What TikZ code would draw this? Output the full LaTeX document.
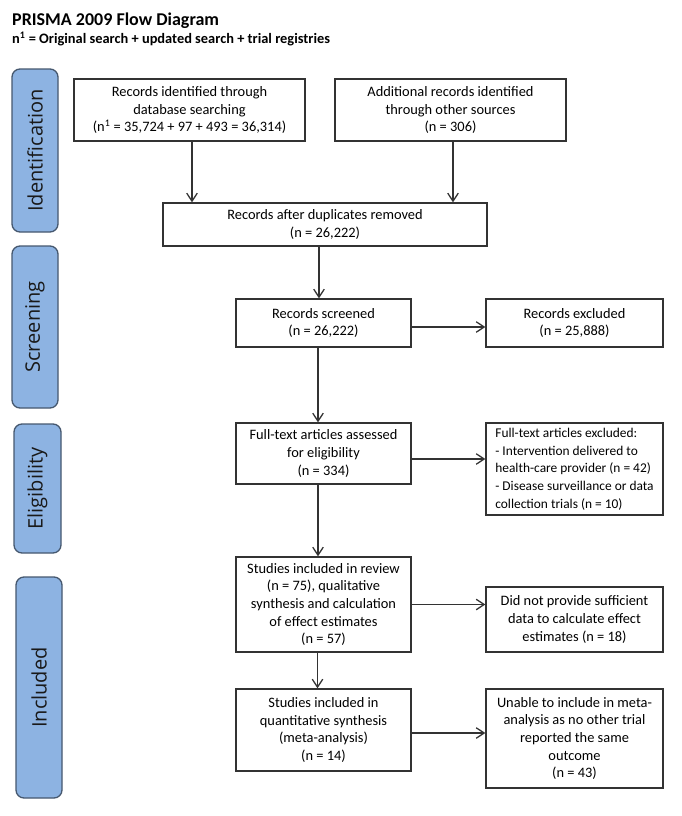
\documentclass[tikz,border=0pt]{standalone}
\usepackage{fontspec}
\setmainfont{Carlito}
\newfontfamily\barfont{Open Sans}
\usetikzlibrary{arrows.meta,calc}
\definecolor{barfill}{HTML}{8DB3E2}
\definecolor{barline}{HTML}{46586F}
\definecolor{boxline}{HTML}{333333}
\begin{document}
\begin{tikzpicture}[x=1pt,y=-1pt,
  box/.style={draw=boxline, line width=1.3pt, fill=white, align=center, inner sep=2pt, text=black, font=\fontsize{14.4}{17.7}\selectfont},
  bar/.style={draw=barline, line width=1.3pt, fill=barfill, rounded corners=8pt},
  barlabel/.style={rotate=90, inner sep=0pt, font=\barfont\fontsize{20}{24}\selectfont, text=black!90},
  arr/.style={draw=boxline, line width=1.3pt, -{Straight Barb[length=8pt,width=10.5pt]}}]
\path[use as bounding box, fill=white] (0,0) rectangle (682,816);

% titles
\node[anchor=base west, inner sep=0pt, font=\bfseries\fontsize{18}{22}\selectfont] (title) at (12,25.5) {PRISMA 2009 Flow Diagram};
\node[anchor=base west, inner sep=0pt, font=\bfseries\fontsize{14.4}{17}\selectfont] (sub) at (12,43.5) {n\textsuperscript{1} = Original search + updated search + trial registries};

% side bars
\node[bar, minimum width=46pt, minimum height=163pt] (bid) at (35,150.5) {};
\node[barlabel] (lid) at (bid.center) {Identification};
\node[bar, minimum width=46pt, minimum height=162pt] (bsc) at (35,327) {};
\node[barlabel] (lsc) at (bsc.center) {Screening};
\node[bar, minimum width=47pt, minimum height=129pt] (bel) at (37.5,488.5) {};
\node[barlabel] (lel) at (bel.center) {Eligibility};
\node[bar, minimum width=46pt, minimum height=221pt] (bin) at (39,687.5) {};
\node[barlabel] (lin) at (bin.center) {Included};

% boxes
\node[box, minimum width=231pt, minimum height=62pt] (db) at (189.5,110) {Records identified through\\database searching\\(n\textsuperscript{1} = 35,724 + 97 + 493 = 36,314)};
\node[box, minimum width=231pt, minimum height=62pt] (oth) at (450.5,110) {Additional records identified\\through other sources\\(n = 306)};
\node[box, minimum width=324pt, minimum height=43pt] (dup) at (325,224.5) {Records after duplicates removed\\(n = 26,222)};
\node[box, minimum width=175pt, minimum height=48pt] (scr) at (323.5,323) {Records screened\\(n = 26,222)};
\node[box, minimum width=177pt, minimum height=48pt] (exc) at (574.5,323) {Records excluded\\(n = 25,888)};
\node[box, minimum width=175pt, minimum height=61pt] (ft) at (323.5,453.5) {Full-text articles assessed\\for eligibility\\(n = 334)};
\node[box, minimum width=177pt, minimum height=92pt, align=left, font=\fontsize{13.4}{17.7}\selectfont] (ftx) at (574.5,469) {Full-text articles excluded:\\- Intervention delivered to\\health-care provider (n = 42)\\- Disease surveillance or data\\collection trials (n = 10)};
\node[box, minimum width=175pt, minimum height=95pt] (rev) at (323.5,604.5) {Studies included in review\\(n = 75), qualitative\\synthesis and calculation\\of effect estimates\\(n = 57)};
\node[box, minimum width=177pt, minimum height=65pt] (did) at (574.5,619.5) {Did not provide sufficient\\data to calculate effect\\estimates (n = 18)};
\node[box, minimum width=175pt, minimum height=82pt] (qua) at (323.5,730) {Studies included in\\quantitative synthesis\\(meta-analysis)\\(n = 14)};
\node[box, minimum width=177pt, minimum height=99pt] (una) at (574.5,738.5) {Unable to include in meta-\\analysis as no other trial\\reported the same\\outcome\\(n = 43)};

% vertical arrows
\draw[arr] ($(db.south)+(2.5,0)$) -- ($(db.south |- dup.north)+(2.5,0)$);
\draw[arr] ($(oth.south)+(2.5,0)$) -- ($(oth.south |- dup.north)+(2.5,0)$);
\draw[arr] ($(dup.south)+(-6,0)$) -- ($(dup.south |- scr.north)+(-6,0)$);
\draw[arr] ($(scr.south)+(-5.5,0)$) -- ($(scr.south |- ft.north)+(-5.5,0)$);
\draw[arr] ($(ft.south)+(-5.5,0)$) -- ($(ft.south |- rev.north)+(-5.5,0)$);
\draw[arr] ($(rev.south)+(-6,0)$) -- ($(rev.south |- qua.north)+(-6,0)$);

% horizontal arrows
\draw[arr] ($(scr.east)+(0,4)$) -- ($(scr.east -| exc.west)+(0,4)$);
\draw[arr] ($(ft.east)+(0,5.5)$) -- ($(ft.east -| ftx.west)+(0,5.5)$);
\draw[arr] (rev.east) -- (rev.east -| did.west);
\draw[arr] ($(qua.east)+(0,3)$) -- ($(qua.east -| una.west)+(0,3)$);
\end{tikzpicture}
\end{document}
